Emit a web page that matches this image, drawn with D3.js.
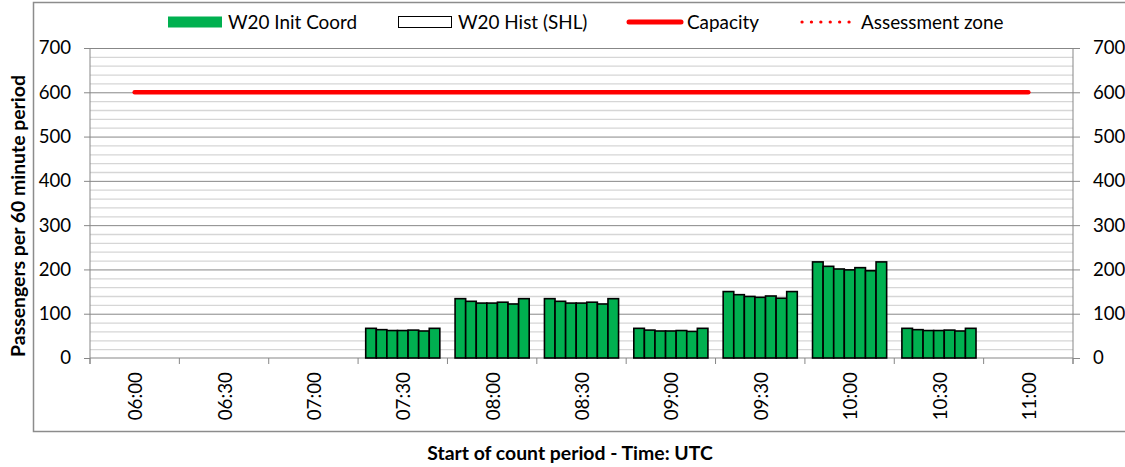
<!DOCTYPE html>
<html>
<head>
<meta charset="utf-8">
<script src="https://cdn.jsdelivr.net/npm/d3@7"></script>
<style>
  body { margin: 0; background: #fff; }
  svg text { font-family: Lato, "Open Sans", sans-serif; fill: #000; }
</style>
</head>
<body>
<div id="chart"></div>
<script>
// data
const categories = ['06:00', '06:30', '07:00', '07:30', '08:00', '08:30', '09:00', '09:30', '10:00', '10:30', '11:00'];
// 7 sub-periods per 30 minute slot, null = no bars
const initCoord = [
    null, null, null,
    [67, 64, 62, 62, 63, 61, 67],
    [134, 128, 124, 124, 126, 122, 134],
    [134, 128, 124, 124, 126, 122, 134],
    [67, 63, 61, 61, 62, 60, 67],
    [150, 143, 139, 137, 140, 135, 150],
    [217, 207, 201, 199, 204, 197, 217],
    [67, 64, 62, 62, 63, 61, 67],
    null
];
const histSHL = [null, null, null, null, null, null, null, null, null, null, null];
const capacity = [600, 600, 600, 600, 600, 600, 600, 600, 600, 600, 600];
const yTicks = [0, 100, 200, 300, 400, 500, 600, 700];
const legendItems = ['W20 Init Coord', 'W20 Hist (SHL)', 'Capacity', 'Assessment zone'];

const width = 1125, height = 467;
const plot = {left: 90, right: 1073, top: 48, bottom: 358};
const gridMajor = '#878787', gridMinor = '#d6d6d6';

const svg = d3.select('#chart').append('svg')
    .attr('width', width)
    .attr('height', height);

// scales
const x = d3.scaleBand().domain(categories).range([plot.left, plot.right]).padding(0);
const xSub = d3.scaleBand().domain(d3.range(7)).range([0, x.bandwidth()])
    .paddingInner(0).paddingOuter(0.72);
const y = d3.scaleLinear().domain([0, 700]).range([plot.bottom, plot.top]);

// chart frame
svg.append('rect')
    .attr('x', 33.5).attr('y', 2.5)
    .attr('width', 1110).attr('height', 429)
    .attr('fill', 'none')
    .attr('stroke', '#8c8c8c')
    .attr('stroke-width', 1.5);

// minor gridlines every 20
const minorTicks = d3.range(20, 700, 20).filter(v => v % 100 !== 0);
svg.append('g')
    .attr('transform', `translate(${plot.left},0)`)
    .call(d3.axisLeft(y).tickValues(minorTicks).tickSize(-(plot.right - plot.left)).tickFormat(''))
    .call(g => g.select('.domain').remove())
    .call(g => g.selectAll('line').attr('stroke', gridMinor).attr('stroke-width', 1.3));

// major gridlines
svg.append('g')
    .attr('transform', `translate(${plot.left},0)`)
    .call(d3.axisLeft(y).tickValues(yTicks.slice(1)).tickSize(-(plot.right - plot.left)).tickFormat(''))
    .call(g => g.select('.domain').remove())
    .call(g => g.selectAll('line').attr('stroke', gridMajor).attr('stroke-width', 1));

// left axis
svg.append('g')
    .attr('transform', `translate(${plot.left},0)`)
    .call(d3.axisLeft(y).tickValues(yTicks).tickSize(6).tickPadding(13))
    .call(g => g.select('.domain').attr('stroke', gridMajor).attr('d', `M0,${plot.top}V${plot.bottom + 6}`))
    .call(g => g.selectAll('line').attr('stroke', gridMajor))
    .call(g => g.selectAll('text').attr('font-size', 18.6).attr('font-family', 'Lato'));

// right axis
svg.append('g')
    .attr('transform', `translate(${plot.right},0)`)
    .call(d3.axisRight(y).tickValues(yTicks).tickSize(7).tickPadding(13))
    .call(g => g.select('.domain').attr('stroke', gridMajor).attr('d', `M0,${plot.top}V${plot.bottom + 6}`))
    .call(g => g.selectAll('line').attr('stroke', gridMajor))
    .call(g => g.selectAll('text').attr('font-size', 18.6).attr('font-family', 'Lato'));

// bottom axis: labels at centres, ticks at band edges
const xAxis = svg.append('g')
    .attr('transform', `translate(0,${plot.bottom})`)
    .call(d3.axisBottom(x).tickSize(0).tickPadding(0))
    .call(g => g.select('.domain').attr('stroke', gridMajor).attr('d', `M${plot.left},0H${plot.right}`));
xAxis.selectAll('.tick text')
    .attr('font-family', '"Liberation Sans", Arial, sans-serif')
    .attr('font-size', 18.8)
    .attr('text-anchor', 'end')
    .attr('transform', 'translate(1,14) rotate(-90)')
    .attr('x', 0).attr('y', 0).attr('dy', '0.35em');
xAxis.selectAll('line.edge')
    .data(categories.map(c => x(c)).concat([plot.right]))
    .join('line')
    .attr('class', 'edge')
    .attr('x1', d => d).attr('x2', d => d)
    .attr('y1', 0).attr('y2', 6)
    .attr('stroke', gridMajor);

// bars
const groups = svg.append('g').selectAll('g')
    .data(categories.map((c, i) => ({cat: c, values: initCoord[i] || []})))
    .join('g')
    .attr('transform', d => `translate(${x(d.cat)},0)`);
groups.selectAll('rect')
    .data(d => d.values)
    .join('rect')
    .attr('x', (d, j) => xSub(j))
    .attr('width', xSub.bandwidth())
    .attr('y', d => y(d))
    .attr('height', d => y(0) - y(d))
    .attr('fill', '#00b050')
    .attr('stroke', '#000')
    .attr('stroke-width', 1.6);

// hist series (no values in this period)
groups.append('g').selectAll('rect')
    .data((d, i) => (histSHL[i] || []))
    .join('rect')
    .attr('x', (d, j) => xSub(j))
    .attr('width', xSub.bandwidth())
    .attr('y', d => y(d))
    .attr('height', d => y(0) - y(d))
    .attr('fill', '#fff')
    .attr('stroke', '#000');

// capacity line
const line = d3.line()
    .x((d, i) => x(categories[i]) + x.bandwidth() / 2)
    .y(d => y(d));
svg.append('path')
    .datum(capacity)
    .attr('d', line)
    .attr('fill', 'none')
    .attr('stroke', '#ff0000')
    .attr('stroke-width', 4.5)
    .attr('stroke-linecap', 'round');

// legend
const legend = svg.append('g').attr('font-size', 18.9);
const ly = 22;
legend.append('rect').attr('x', 168).attr('y', 16.5).attr('width', 54).attr('height', 11).attr('fill', '#00b050');
legend.append('text').attr('x', 228).attr('y', ly).attr('dy', '0.35em').text(legendItems[0]);
legend.append('rect').attr('x', 398.5).attr('y', 16.5).attr('width', 53).attr('height', 11)
    .attr('fill', '#fff').attr('stroke', '#000').attr('stroke-width', 1);
legend.append('text').attr('x', 458).attr('y', ly).attr('dy', '0.35em').text(legendItems[1]);
legend.append('line').attr('x1', 629).attr('x2', 681).attr('y1', ly).attr('y2', ly)
    .attr('stroke', '#ff0000').attr('stroke-width', 5).attr('stroke-linecap', 'round');
legend.append('text').attr('x', 687).attr('y', ly).attr('dy', '0.35em').text(legendItems[2]);
legend.append('line').attr('x1', 802).attr('x2', 857).attr('y1', ly).attr('y2', ly)
    .attr('stroke', '#ff0000').attr('stroke-width', 3.2).attr('stroke-linecap', 'round')
    .attr('stroke-dasharray', '0.1,9.3');
legend.append('text').attr('x', 861).attr('y', ly).attr('dy', '0.35em').text(legendItems[3]);

// axis titles
svg.append('text')
    .attr('transform', 'translate(18,216) rotate(-90)')
    .attr('text-anchor', 'middle')
    .attr('dy', '0.35em')
    .attr('font-size', 19.4)
    .attr('font-weight', 'bold')
    .text('Passengers per 60 minute period');
svg.append('text')
    .attr('x', 570).attr('y', 453)
    .attr('text-anchor', 'middle')
    .attr('dy', '0.35em')
    .attr('font-size', 19.4)
    .attr('font-weight', 'bold')
    .text('Start of count period - Time: UTC');
</script>
</body>
</html>
